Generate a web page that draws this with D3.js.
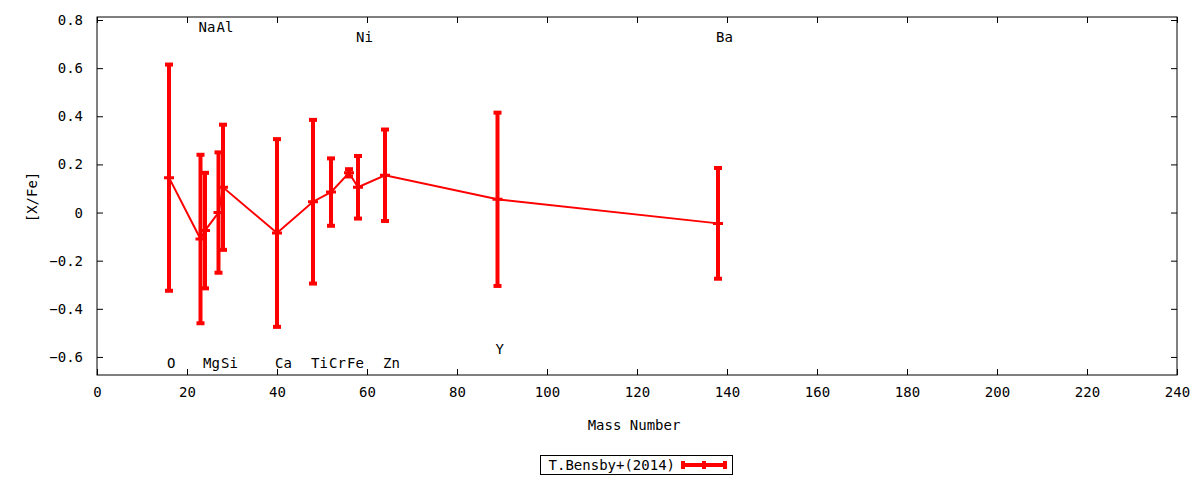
<!DOCTYPE html>
<html>
<head>
<meta charset="utf-8">
<script src="https://cdn.jsdelivr.net/npm/d3@7"></script>
<style>
  body { margin: 0; background: #fff; }
  text { font-family: 'DejaVu Sans Mono', monospace; font-size: 14px; fill: #000; }
</style>
</head>
<body>
<div id="chart"></div>
<script>
// 元素名と質量数
var elements = ['O', 'Na', 'Mg', 'Al', 'Si', 'Ca', 'Ti', 'Cr', 'Fe', 'Ni', 'Zn', 'Y', 'Ba'];
var massNumbers = [16, 23, 24, 27, 28, 40, 48, 52, 56, 58, 64, 89, 138];

// [X/Fe] の値と誤差
var xFeValues = [0.145, -0.11, -0.075, 0.0, 0.105, -0.085, 0.045, 0.085, 0.165, 0.105, 0.155, 0.055, -0.045];
var xFeErrors = [0.47, 0.35, 0.24, 0.25, 0.26, 0.39, 0.34, 0.14, 0.015, 0.13, 0.19, 0.36, 0.23];

// 元素ラベルの高さ（データ座標）
var labelLevels = [-0.625, 0.771, -0.625, 0.771, -0.625, -0.625, -0.625, -0.625, -0.625, 0.729, -0.625, -0.567, 0.729];

// 目盛り
var xTicks = [0, 20, 40, 60, 80, 100, 120, 140, 160, 180, 200, 220, 240];
var yTicks = [-0.6, -0.4, -0.2, 0, 0.2, 0.4, 0.6, 0.8];

var seriesName = 'T.Bensby+(2014)';

// 領域のサイズ
var width = 1200;
var height = 480;
var margin = {top: 17, right: 23, bottom: 105, left: 97};
var w = width - margin.left - margin.right;
var h = height - margin.top - margin.bottom;

var color = '#ff0000';
var tickLen = 6;

var svg = d3.select('#chart').append('svg')
  .attr('width', width).attr('height', height);

var x = d3.scaleLinear().domain([0, 240]).range([margin.left, margin.left + w]);
var y = d3.scaleLinear().domain([-0.675, 0.8125]).range([margin.top + h, margin.top]);

// 枠
svg.append('rect')
  .attr('x', margin.left).attr('y', margin.top)
  .attr('width', w).attr('height', h)
  .style('fill', 'none').style('stroke', '#000').style('stroke-width', 1);

// 軸（内向きの目盛り、上と右にもミラー）
var fmtY = function(d) { return d === 0 ? '0' : d3.format('.1f')(d); };

svg.append('g')
  .attr('transform', 'translate(0,' + (margin.top + h) + ')')
  .call(d3.axisBottom(x).tickValues(xTicks).tickSizeInner(-tickLen).tickSizeOuter(0).tickPadding(12))
  .call(function(g) { g.select('.domain').remove(); });

svg.append('g')
  .attr('transform', 'translate(0,' + margin.top + ')')
  .call(d3.axisTop(x).tickValues(xTicks).tickSizeInner(-tickLen).tickSizeOuter(0).tickFormat(''))
  .call(function(g) { g.select('.domain').remove(); });

svg.append('g')
  .attr('transform', 'translate(' + margin.left + ',0)')
  .call(d3.axisLeft(y).tickValues(yTicks).tickSizeInner(-tickLen).tickSizeOuter(0).tickPadding(14).tickFormat(fmtY))
  .call(function(g) { g.select('.domain').remove(); });

svg.append('g')
  .attr('transform', 'translate(' + (margin.left + w) + ',0)')
  .call(d3.axisRight(y).tickValues(yTicks).tickSizeInner(-tickLen).tickSizeOuter(0).tickFormat(''))
  .call(function(g) { g.select('.domain').remove(); });

svg.selectAll('.tick text')
  .style('font-family', "'DejaVu Sans Mono', monospace")
  .style('font-size', '14px');

// 軸ラベル
svg.append('text')
  .attr('x', margin.left + w / 2 - 3)
  .attr('y', 430)
  .attr('text-anchor', 'middle')
  .text('Mass Number');

svg.append('text')
  .attr('transform', 'translate(37,' + (margin.top + 180) + ') rotate(-90)')
  .attr('text-anchor', 'middle')
  .text('[X/Fe]');

// データ
var data = elements.map(function(e, i) {
  return {name: e, m: massNumbers[i], v: xFeValues[i], err: xFeErrors[i], ly: labelLevels[i]};
});

var plotG = svg.append('g');

// 折れ線
plotG.append('path')
  .datum(data)
  .attr('d', d3.line().x(function(d) { return x(d.m); }).y(function(d) { return y(d.v); }))
  .style('fill', 'none').style('stroke', color).style('stroke-width', 2);

// 誤差棒
var capW = 4;
var bars = plotG.selectAll('.errbar').data(data).enter().append('g').classed('errbar', true);

bars.append('line')
  .attr('x1', function(d) { return x(d.m); })
  .attr('x2', function(d) { return x(d.m); })
  .attr('y1', function(d) { return y(d.v - d.err); })
  .attr('y2', function(d) { return y(d.v + d.err); })
  .style('stroke', color).style('stroke-width', 4);

[-1, 1].forEach(function(s) {
  bars.append('line')
    .attr('x1', function(d) { return x(d.m) - capW; })
    .attr('x2', function(d) { return x(d.m) + capW; })
    .attr('y1', function(d) { return y(d.v + s * d.err); })
    .attr('y2', function(d) { return y(d.v + s * d.err); })
    .style('stroke', color).style('stroke-width', 4);
});

// 点（プラス記号）
bars.append('path')
  .attr('d', function(d) {
    var cx = x(d.m), cy = y(d.v);
    return 'M' + (cx - 5) + ',' + cy + 'H' + (cx + 5) + 'M' + cx + ',' + (cy - 5) + 'V' + (cy + 5);
  })
  .style('stroke', color).style('stroke-width', 3).style('fill', 'none');

// 元素ラベル
plotG.selectAll('.elabel').data(data).enter().append('text')
  .classed('elabel', true)
  .attr('x', function(d) { return x(d.m) - 2; })
  .attr('y', function(d) { return y(d.ly); })
  .attr('dy', '0.35em')
  .text(function(d) { return d.name; });

// 凡例
var legendG = svg.append('g');
legendG.append('rect')
  .attr('x', 540.5).attr('y', 455.5).attr('width', 192).attr('height', 19)
  .style('fill', 'none').style('stroke', '#000').style('stroke-width', 1);

legendG.append('text')
  .attr('x', 675).attr('y', 465)
  .attr('dy', '0.35em')
  .attr('text-anchor', 'end')
  .text(seriesName);

legendG.append('line')
  .attr('x1', 683).attr('x2', 725).attr('y1', 465).attr('y2', 465)
  .style('stroke', color).style('stroke-width', 4);

[683, 704, 725].forEach(function(lx) {
  legendG.append('line')
    .attr('x1', lx).attr('x2', lx).attr('y1', 461).attr('y2', 469)
    .style('stroke', color).style('stroke-width', 4);
});
</script>
</body>
</html>
